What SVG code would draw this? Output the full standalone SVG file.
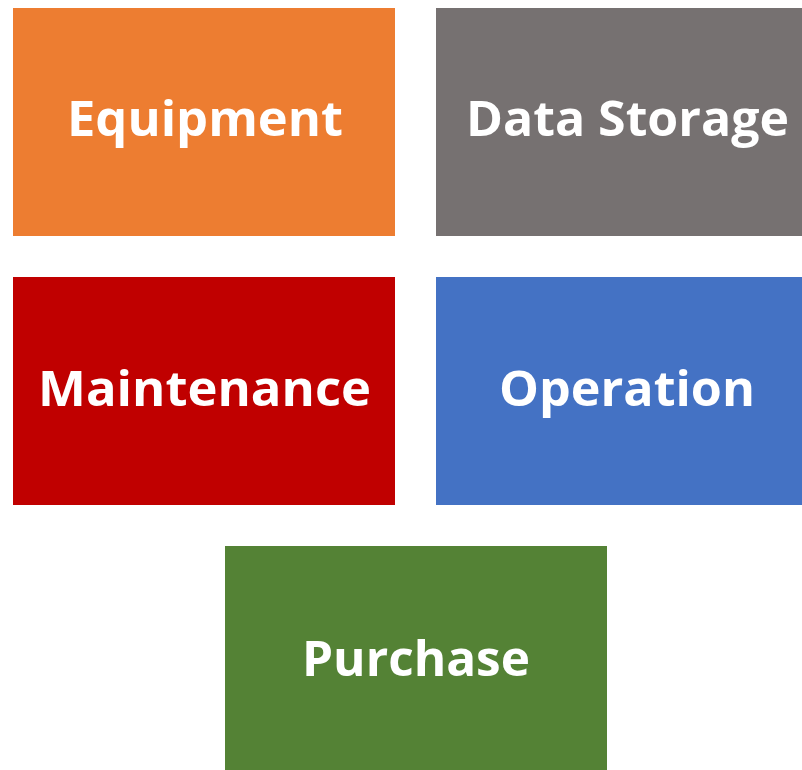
<svg xmlns="http://www.w3.org/2000/svg" width="802" height="770" viewBox="0 0 802 770">
<style>
.lbl{font-family:"Open Sans","Noto Sans","Liberation Sans",sans-serif;font-weight:bold;font-size:48px;fill:#FFFFFF;text-anchor:middle}
</style>
<rect width="802" height="770" fill="#FFFFFF"/>
<g id="equipment"><rect x="13" y="8" width="382" height="228" fill="#ED7D31"/><text class="lbl" x="205" y="136" textLength="276" lengthAdjust="spacingAndGlyphs">Equipment</text></g>
<g id="data-storage"><rect x="436" y="8" width="382" height="228" fill="#767171"/><text class="lbl" x="627.5" y="136" textLength="323" lengthAdjust="spacingAndGlyphs">Data Storage</text></g>
<g id="maintenance"><rect x="13" y="277" width="382" height="228" fill="#C00000"/><text class="lbl" x="204.5" y="406" textLength="333" lengthAdjust="spacingAndGlyphs">Maintenance</text></g>
<g id="operation"><rect x="436" y="277" width="382" height="228" fill="#4472C4"/><text class="lbl" x="627" y="406" textLength="256" lengthAdjust="spacingAndGlyphs">Operation</text></g>
<g id="purchase"><rect x="225" y="546" width="382" height="228" fill="#548235"/><text class="lbl" x="416" y="676" textLength="228" lengthAdjust="spacingAndGlyphs">Purchase</text></g>
<g id="connectors"></g>
</svg>
